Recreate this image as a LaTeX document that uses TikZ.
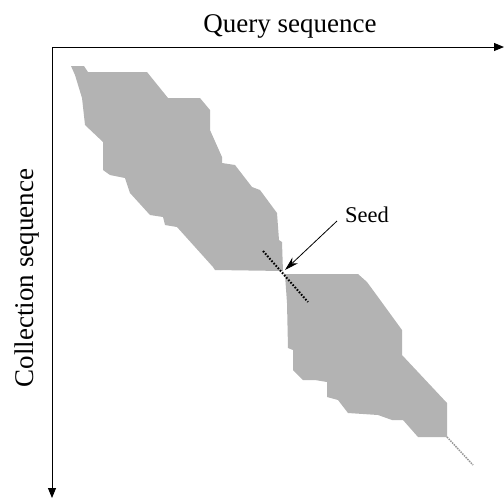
\documentclass[tikz,border=0pt]{standalone}
\usepackage{fontspec}
\setmainfont{Liberation Serif}
\usetikzlibrary{arrows.meta}
\definecolor{regiongray}{RGB}{179,179,179}
\definecolor{tailgray}{RGB}{150,150,150}
\tikzset{
  axis/.style={line width=1pt, -{Triangle[length=10pt,width=8pt]}},
  bigtext/.style={font=\fontsize{27}{30}\selectfont, inner sep=0pt},
  seedtext/.style={font=\fontsize{22.5}{26}\selectfont, inner sep=0pt},
  region/.style={fill=regiongray, draw=none},
  seedline/.style={line width=2pt, dash pattern=on 1.6pt off 1.6pt},
  tailline/.style={tailgray, line width=1.5pt, dash pattern=on 1.5pt off 1pt},
  pointer/.style={line width=0.8pt, -{Stealth[length=14pt,width=8pt]}}
}
\begin{document}
\begin{tikzpicture}[x=1pt, y=-1pt]
  \useasboundingbox (0,0) rectangle (504,504);

  % explored region of the alignment (two lobes meeting at the seed)
  \fill[region]
    (71,66) -- (84,66) -- (88,72) -- (147,72) -- (168,98) -- (200,98)
    -- (210,110) -- (210,130) -- (222,157) -- (222,163) -- (235,165)
    -- (252,187) -- (260,190) -- (277,213) -- (279,240) -- (282,242)
    -- (283,272) -- (285,274) -- (358,274) -- (367,282) -- (378,297)
    -- (402,330) -- (402,355) -- (447,403) -- (447,437) -- (418,437)
    -- (403,420) -- (392,420) -- (378,415) -- (348,413) -- (338,400)
    -- (327,397) -- (327,382) -- (315,380) -- (303,380) -- (293,370)
    -- (293,350) -- (288,348) -- (287,303) -- (285,275) -- (283,271)
    -- (215,270) -- (213,267) -- (177,227) -- (165,225) -- (163,217)
    -- (150,215) -- (130,193) -- (125,178) -- (110,175) -- (103,170)
    -- (103,142) -- (85,125) -- (82,98) -- (75,75) -- cycle;

  % thin continuation of the diagonal past the region
  \coordinate (tailA) at (447,437);
  \coordinate (tailB) at (473,465);
  \draw[tailline] (tailA) -- (tailB);

  % the seed diagonal
  \coordinate (seedA) at (263,251);
  \coordinate (seedB) at (308,302);
  \coordinate (seedhit) at (285,270);
  \draw[seedline] (seedA) -- (seedB);

  % axes
  \coordinate (origin) at (52,47);
  \coordinate (qend) at (504,47);
  \coordinate (cend) at (52,498);
  \draw[axis] (origin) -- (qend);
  \draw[axis] (origin) -- (cend);

  % labels
  \node[bigtext, anchor=base] (qlabel) at (290,32) {Query sequence};
  \node[bigtext, anchor=base, rotate=90] (clabel) at (33,278) {Collection sequence};
  \node[seedtext, anchor=base] (seedlabel) at (367,222) {Seed};
  \coordinate (pstart) at (337,221);
  \draw[pointer] (pstart) -- (seedhit);
\end{tikzpicture}
\end{document}
